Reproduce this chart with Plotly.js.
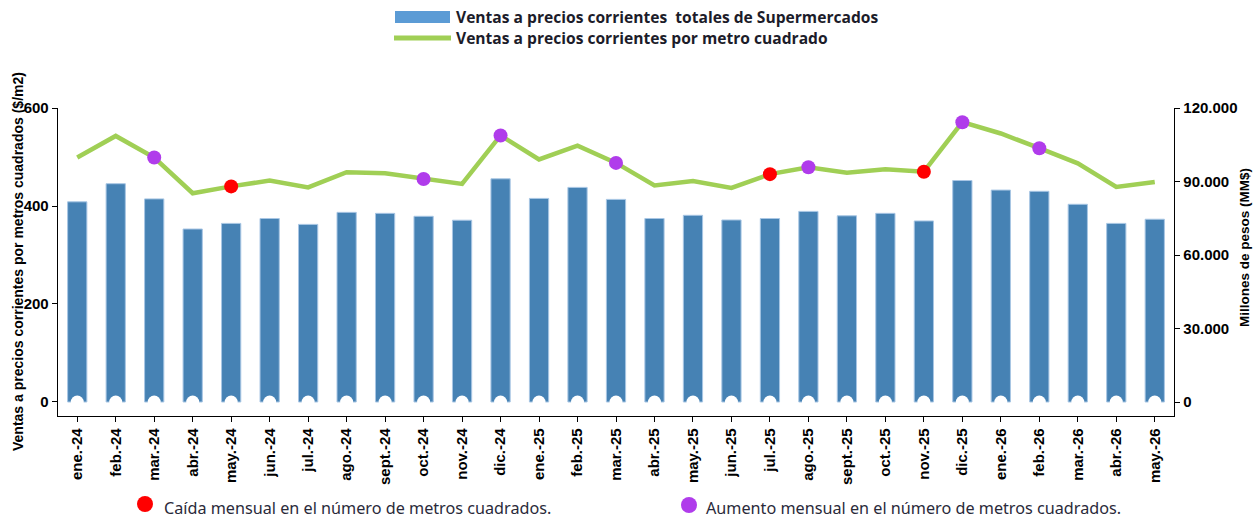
<!DOCTYPE html>
<html>
<head>
<meta charset="utf-8">
<script src="https://cdn.plot.ly/plotly-3.0.1.min.js"></script>
<style>
html,body{margin:0;padding:0;background:#fff;}
#chart{width:1256px;height:519px;}
</style>
</head>
<body>
<div id="chart"></div>
<script>
const categories = ["ene.-24","feb.-24","mar.-24","abr.-24","may.-24","jun.-24","jul.-24","ago.-24","sept.-24","oct.-24","nov.-24","dic.-24",
  "ene.-25","feb.-25","mar.-25","abr.-25","may.-25","jun.-25","jul.-25","ago.-25","sept.-25","oct.-25","nov.-25","dic.-25",
  "ene.-26","feb.-26","mar.-26","abr.-26","may.-26"];

// Ventas totales (MM$) - right axis
const ventasTotales = [81700,89100,82900,70600,72900,74900,72500,77400,77000,75800,74200,91100,
  83100,87600,82700,74900,76200,74300,74900,77800,76000,77000,73900,90400,
  86500,86000,80700,72900,74600];

// Ventas por metro cuadrado ($/m2) - left axis
const ventasM2 = [499,543,499,426,440,452,438,469,467,455,445,544,
  495,523,488,442,451,437,465,479,468,475,470,571,
  548,518,487,439,449];

const caidaMeses = ["may.-24","jul.-25","nov.-25"];
const aumentoMeses = ["mar.-24","oct.-24","dic.-24","mar.-25","ago.-25","dic.-25","feb.-26"];

const yTicks = [0,200,400,600];
const y2Ticks = [0,30000,60000,90000,120000];
const y2TickText = ["0","30.000","60.000","90.000","120.000"];

const L = 58, R = 1174, T = 108, B = 416;
const px = x => (x - L) / (R - L);
const py = y => (B - y) / (B - T);

const pick = (list) => list.map(c => ventasM2[categories.indexOf(c)]);

const traces = [
  {
    type: 'bar', x: categories, y: ventasTotales, yaxis: 'y2',
    marker: {color: '#4682B4', line: {color: '#A8C6E4', width: 1}},
    width: 0.5, showlegend: false, hoverinfo: 'skip'
  },
  {
    type: 'scatter', mode: 'markers', x: categories, y: categories.map(() => 0), yaxis: 'y2',
    marker: {color: '#ffffff', size: 13, line: {width: 0}},
    showlegend: false, hoverinfo: 'skip', cliponaxis: false
  },
  {
    type: 'scatter', mode: 'lines', x: categories, y: ventasM2,
    line: {color: '#A0CF55', width: 4.5},
    showlegend: false, hoverinfo: 'skip'
  },
  {
    type: 'scatter', mode: 'markers', x: caidaMeses, y: pick(caidaMeses),
    marker: {color: '#FF0000', size: 14, line: {width: 0}},
    showlegend: false, hoverinfo: 'skip'
  },
  {
    type: 'scatter', mode: 'markers', x: aumentoMeses, y: pick(aumentoMeses),
    marker: {color: '#B03CEB', size: 14, line: {width: 0}},
    showlegend: false, hoverinfo: 'skip'
  }
];

const tickFont = {family: 'Liberation Sans, Arial, sans-serif', size: 15, color: '#000', weight: 'bold'};

const layout = {
  width: 1256, height: 519,
  margin: {l: L, r: 1256 - R, t: T, b: 519 - B, pad: 0},
  paper_bgcolor: '#fff', plot_bgcolor: '#fff',
  showlegend: false,
  hovermode: false,
  bargap: 0.5,
  xaxis: {
    type: 'category', range: [-0.5, 28.5],
    showline: true, linecolor: '#000', linewidth: 1.3, mirror: false,
    ticks: 'outside', ticklen: 5, tickcolor: '#000', tickwidth: 1,
    tickangle: -90, tickfont: tickFont, showgrid: false, zeroline: false,
    fixedrange: true
  },
  yaxis: {
    range: [-28.6, 600], tickvals: yTicks, ticktext: yTicks.map(String),
    showline: true, linecolor: '#000', linewidth: 1.3,
    ticks: 'outside', ticklen: 5, tickcolor: '#000',
    tickfont: tickFont, showgrid: false, zeroline: false, fixedrange: true
  },
  yaxis2: {
    overlaying: 'y', side: 'right',
    range: [-5714, 120000], tickvals: y2Ticks, ticktext: y2TickText,
    showline: true, linecolor: '#000', linewidth: 1.3,
    ticks: 'outside', ticklen: 5, tickcolor: '#000',
    tickfont: tickFont, showgrid: false, zeroline: false, fixedrange: true
  },
  shapes: [
    {type: 'rect', xref: 'paper', yref: 'paper', x0: px(395), x1: px(450), y0: py(23), y1: py(11),
     fillcolor: '#5B9BD5', line: {width: 0}},
    {type: 'line', xref: 'paper', yref: 'paper', x0: px(394), x1: px(451), y0: py(38), y1: py(38),
     line: {color: '#A0CF55', width: 5}},
    {type: 'circle', xref: 'paper', yref: 'paper', xsizemode: 'pixel', ysizemode: 'pixel',
     xanchor: px(145), yanchor: py(504), x0: -8, x1: 8, y0: -8, y1: 8,
     fillcolor: '#FF0000', line: {width: 0}},
    {type: 'circle', xref: 'paper', yref: 'paper', xsizemode: 'pixel', ysizemode: 'pixel',
     xanchor: px(689), yanchor: py(505), x0: -8, x1: 8, y0: -8, y1: 8,
     fillcolor: '#B03CEB', line: {width: 0}}
  ],
  annotations: [
    {xref: 'paper', yref: 'paper', x: px(454), y: py(17), xanchor: 'left', yanchor: 'middle', showarrow: false,
     text: 'Ventas a precios corrientes&nbsp; totales de Supermercados',
     font: {family: 'Open Sans, sans-serif', size: 15.6, color: '#1C1C2A', weight: 'bold'}},
    {xref: 'paper', yref: 'paper', x: px(454), y: py(38), xanchor: 'left', yanchor: 'middle', showarrow: false,
     text: 'Ventas a precios corrientes por metro cuadrado',
     font: {family: 'Open Sans, sans-serif', size: 15.6, color: '#1C1C2A', weight: 'bold'}},
    {xref: 'paper', yref: 'paper', x: px(162), y: py(508), xanchor: 'left', yanchor: 'middle', showarrow: false,
     text: 'Caída mensual en el número de metros cuadrados.',
     font: {family: 'Noto Sans, sans-serif', size: 16.2, color: '#2A2A3A'}},
    {xref: 'paper', yref: 'paper', x: px(704), y: py(508), xanchor: 'left', yanchor: 'middle', showarrow: false,
     text: 'Aumento mensual en el número de metros cuadrados.',
     font: {family: 'Noto Sans, sans-serif', size: 16.2, color: '#2A2A3A'}},
    {xref: 'paper', yref: 'paper', x: px(18), y: py(262), xanchor: 'center', yanchor: 'middle', showarrow: false,
     textangle: -90, text: 'Ventas a precios corrientes por metros cuadrados ($/m2)',
     font: {family: 'Liberation Sans, Arial, sans-serif', size: 14, color: '#000', weight: 'bold'}},
    {xref: 'paper', yref: 'paper', x: px(1244), y: py(248), xanchor: 'center', yanchor: 'middle', showarrow: false,
     textangle: -90, text: 'Millones de pesos (MM$)',
     font: {family: 'Liberation Sans, Arial, sans-serif', size: 13.5, color: '#000', weight: 'bold'}}
  ]
};

Plotly.newPlot('chart', traces, layout, {staticPlot: true, displayModeBar: false});
</script>
</body>
</html>
